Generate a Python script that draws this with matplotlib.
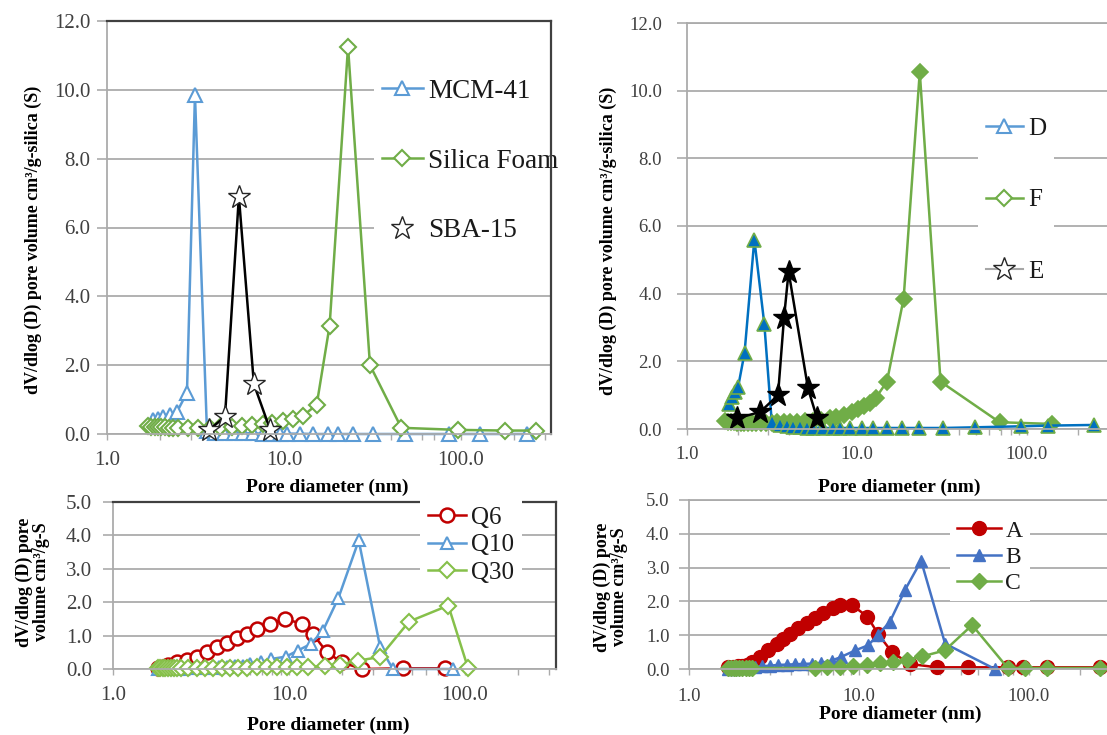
import numpy as np
import matplotlib
matplotlib.use("Agg")
import matplotlib.pyplot as plt
from matplotlib.lines import Line2D
from matplotlib.ticker import FixedLocator, FuncFormatter, LogLocator, NullFormatter

plt.rcParams['font.family'] = ['Liberation Serif', 'DejaVu Serif']

W, H = 1107, 735

# ---------------- panel 1: MCM-41 / Silica Foam / SBA-15 ----------------
mcm_d = [1.82, 1.94, 2.07, 2.27, 2.49, 2.83, 3.14, 3.67,
         4.1, 4.6, 5.2, 5.9, 6.7, 7.6, 8.6, 9.5,
         10.4, 12.3, 14.6, 17.7, 20.1, 24.5, 31.8, 48, 86, 128, 235]
mcm_v = [0.40, 0.45, 0.50, 0.55, 0.65, 1.20, 9.85, 0.10,
         0.04, 0.03, 0.02, 0.02, 0.02, 0.01, 0.01, 0.01,
         0.01, 0.01, 0.0, 0.0, 0.0, 0.0, 0.0, 0.0, 0.0, 0.0, 0.0]

foam_d = [1.70, 1.78, 1.86, 1.94, 2.03, 2.13, 2.24, 2.36, 2.52, 2.87,
          3.26, 3.81, 4.35, 5.08, 5.78, 6.6, 7.6, 8.6, 9.85, 11.2,
          12.8, 15.3, 18.1, 23.0, 30.6, 46, 96, 177, 265]
foam_v = [0.22, 0.21, 0.20, 0.20, 0.19, 0.19, 0.18, 0.18, 0.18, 0.17,
          0.17, 0.18, 0.19, 0.20, 0.22, 0.25, 0.29, 0.33, 0.39, 0.45,
          0.53, 0.85, 3.15, 11.25, 2.0, 0.18, 0.12, 0.10, 0.10]

sba_d = [3.77, 4.64, 5.56, 6.76, 8.36]
sba_v = [0.12, 0.5, 6.9, 1.45, 0.12]

# ---------------- panel 2: D / F / E ----------------
D_d = [1.76, 1.84, 1.92, 2.0, 2.18, 2.49, 2.85, 3.15,
       3.52, 3.87, 4.2, 4.62, 5.07, 5.5, 6.3, 7.2,
       7.95, 9.1, 10.7, 12.4, 15.0, 18.4, 23.3, 32.0,
       49.5, 92, 133, 249]
D_v = [0.75, 0.95, 1.1, 1.25, 2.25, 5.6, 3.1, 0.22,
       0.12, 0.08, 0.06, 0.05, 0.04, 0.04, 0.03, 0.03,
       0.03, 0.03, 0.03, 0.03, 0.03, 0.03, 0.03, 0.03,
       0.05, 0.08, 0.10, 0.12]

F_d = [1.67, 1.74, 1.82, 1.9, 1.98, 2.07, 2.17, 2.28, 2.41, 2.56, 2.73, 2.93, 3.15,
       3.4, 3.7, 4.05, 4.45, 4.95, 5.5,
       6.13, 6.9, 7.52, 8.4, 9.34, 10.2, 11.0, 12.0, 12.9,
       15.0, 18.8, 23.4, 31.0, 69, 140]
F_v = [0.25, 0.22, 0.2, 0.2, 0.19, 0.19, 0.18, 0.18, 0.18, 0.18, 0.18, 0.19, 0.19,
       0.2, 0.2, 0.21, 0.22, 0.23, 0.25,
       0.28, 0.32, 0.36, 0.42, 0.5, 0.58, 0.67, 0.78, 0.92,
       1.4, 3.85, 10.55, 1.4, 0.2, 0.15]

E_d = [1.97, 2.69, 3.43, 3.72, 3.96, 5.15, 5.82]
E_v = [0.32, 0.5, 1.0, 3.28, 4.65, 1.2, 0.32]

# ---------------- panel 3: Q6 / Q10 / Q30 ----------------
Q6_d = [1.8, 1.92, 2.05, 2.31, 2.63, 3.0, 3.42, 3.9, 4.44, 5.06,
        5.77, 6.57, 7.8, 9.46, 11.9, 13.7, 16.4, 20.0, 26.0, 44.3, 77]
Q6_v = [0.03, 0.07, 0.12, 0.2, 0.27, 0.37, 0.5, 0.65, 0.77, 0.92,
        1.06, 1.21, 1.35, 1.5, 1.35, 1.05, 0.5, 0.2, 0.0, 0.02, 0.02]

Q10_d = [1.8, 1.95, 2.1, 2.3, 2.5, 2.75, 3.0, 3.3, 3.65, 4.0,
         4.45, 4.95, 5.5, 6.0, 6.9, 7.9, 9.6, 11.2, 13.3, 15.6,
         19.1, 24.9, 32.9, 38.9, 86]
Q10_v = [0.0, 0.0, 0.0, 0.01, 0.01, 0.02, 0.02, 0.03, 0.04, 0.05,
         0.06, 0.08, 0.1, 0.14, 0.2, 0.3, 0.37, 0.55, 0.75, 1.15,
         2.13, 3.85, 0.67, 0.0, 0.0]

Q30_d = [1.8, 1.86, 1.92, 1.98, 2.05, 2.13, 2.22, 2.32, 2.45, 2.67,
         3.0, 3.33, 3.7, 4.16, 4.62, 5.12, 5.77, 6.57, 7.5, 8.5,
         9.7, 11.1, 12.8, 16.0, 19.4, 24.6, 32.9, 48.1, 80.4, 104]
Q30_v = [0.03, 0.03, 0.03, 0.03, 0.03, 0.03, 0.03, 0.03, 0.03, 0.03,
         0.03, 0.03, 0.03, 0.03, 0.04, 0.04, 0.04, 0.05, 0.05, 0.05,
         0.06, 0.06, 0.07, 0.08, 0.13, 0.25, 0.36, 1.42, 1.9, 0.03]

# ---------------- panel 4: A / B / C ----------------
A_d = [1.70, 1.82, 1.94, 2.06, 2.19, 2.35, 2.62, 2.92, 3.29, 3.57,
       3.92, 4.37, 4.94, 5.5, 6.13, 7.0, 7.7, 9.05, 11.2, 12.9,
       15.6, 19.9, 28.7, 43.7, 75, 92, 127, 262]
A_v = [0.07, 0.07, 0.08, 0.1, 0.12, 0.2, 0.35, 0.55, 0.75, 0.9,
       1.05, 1.2, 1.35, 1.5, 1.65, 1.8, 1.9, 1.9, 1.55, 1.05,
       0.5, 0.15, 0.05, 0.05, 0.05, 0.05, 0.05, 0.05]

B_d = [1.70, 1.85, 2.0, 2.2, 2.45, 2.7, 3.0, 3.35, 3.75, 4.2,
       4.7, 5.3, 6.0, 6.9, 7.8, 9.5, 11.3, 12.9, 15.2, 18.7,
       23.2, 32.1, 63]
B_v = [0.0, 0.0, 0.02, 0.04, 0.06, 0.08, 0.1, 0.12, 0.13, 0.14,
       0.15, 0.16, 0.18, 0.25, 0.35, 0.55, 0.7, 1.0, 1.4, 2.35,
       3.2, 0.75, 0.0]

C_d = [1.70, 1.76, 1.83, 1.9, 1.98, 2.06, 2.15, 2.25, 2.35,
       5.5, 6.5, 7.7, 9.2, 11.1, 13.3, 15.9, 19.2, 23.4, 32.0, 46.3,
       75, 95, 127, 262]
C_v = [0.03, 0.03, 0.03, 0.03, 0.03, 0.03, 0.03, 0.03, 0.03,
       0.03, 0.05, 0.07, 0.1, 0.13, 0.17, 0.2, 0.27, 0.37, 0.55, 1.3,
       0.03, 0.03, 0.03, 0.03]

ylab_top = "dV/dlog (D) pore volume cm³/g-silica (S)"
ylab_bot = "dV/dlog (D) pore\nvolume cm³/g-S"
xlab = "Pore diameter (nm)"

GRID = '#ABABAB'
DARK = '#404040'
TXT = '#404040'

fig = plt.figure(figsize=(W / 100, H / 100), dpi=100)
fig.patch.set_facecolor('white')


def make_axes(x_one, dec, x_right, y_top, y_zero, y_max, y_step, tsize, ypad, xpad, framed):
    # positions in pixels of the original picture
    ax = fig.add_axes([x_one / W, 1 - y_zero / H, (x_right - x_one) / W, (y_zero - y_top) / H])
    ax.set_xscale('log')
    ax.set_xlim(1, 10 ** ((x_right - x_one) / dec))
    ax.set_ylim(0, y_max)
    ax.yaxis.set_major_locator(FixedLocator(np.arange(0, y_max + 0.01, y_step)))
    ax.yaxis.set_major_formatter(FuncFormatter(lambda v, p: "%.1f" % v))
    ax.xaxis.set_major_locator(FixedLocator([1, 10, 100]))
    ax.xaxis.set_major_formatter(FuncFormatter(lambda v, p: "%.1f" % v))
    ax.xaxis.set_minor_locator(LogLocator(base=10, subs=np.arange(2, 10)))
    ax.xaxis.set_minor_formatter(NullFormatter())
    ax.grid(axis='y', color=GRID, lw=1.3)
    ax.set_axisbelow(True)
    for s in ['left', 'bottom']:
        ax.spines[s].set_color(GRID)
        ax.spines[s].set_linewidth(1.3)
    if framed:
        for s in ['top', 'right']:
            ax.spines[s].set_color(DARK)
            ax.spines[s].set_linewidth(1.6)
    else:
        ax.spines['right'].set_visible(False)
        ax.spines['top'].set_color(GRID)
        ax.spines['top'].set_linewidth(1.3)
    ax.tick_params(axis='y', which='major', length=7, width=1.2, color=GRID,
                   labelcolor=TXT, labelsize=tsize, pad=ypad)
    ax.tick_params(axis='x', which='both', length=4, width=1.0, color=GRID,
                   labelcolor=TXT, labelsize=tsize, pad=xpad)
    return ax


def labels(ax, xl_pos, yl_pos, ytext, fs_y):
    ax.set_xlabel(xlab, fontsize=14, fontweight='bold', color='black')
    ax.xaxis.label.set_va('center')
    ax.xaxis.set_label_coords(xl_pos[0] / W, 1 - xl_pos[1] / H, transform=fig.transFigure)
    ax.set_ylabel(ytext, fontsize=fs_y, fontweight='bold', color='black', linespacing=1.0)
    ax.yaxis.label.set_va('center')
    ax.yaxis.set_label_coords(yl_pos[0] / W, 1 - yl_pos[1] / H, transform=fig.transFigure)


def legend(ax, handles, names, x_left, y_mid, fs, spacing, hlen, z):
    leg = ax.legend(handles, names, loc='center left',
                    bbox_to_anchor=(x_left / W, 1 - y_mid / H), bbox_transform=fig.transFigure,
                    fontsize=fs, frameon=True, facecolor='white', edgecolor='none', framealpha=1,
                    fancybox=False, borderpad=0.3, borderaxespad=0, labelspacing=spacing,
                    handlelength=hlen, handletextpad=0.2)
    for t in leg.get_texts():
        t.set_color('#1a1a1a')
    leg.set_zorder(z)
    return leg


# ---------- panel 1 ----------
ax1 = make_axes(107, 177, 551, 21, 434, 12, 2, 15, 5, 8, True)
ax1.plot(mcm_d, mcm_v, color='#5B9BD5', lw=1.8, marker='^', ms=10, mfc='white',
         mec='#5B9BD5', mew=1.5, clip_on=False)
ax1.plot(foam_d, foam_v, color='#70AD47', lw=1.8, marker='D', ms=8, mfc='white',
         mec='#70AD47', mew=1.5, clip_on=False)
ax1.plot(sba_d, sba_v, color='black', lw=1.8, marker='*', ms=17, mfc='white',
         mec='#262626', mew=1.0, clip_on=False)
labels(ax1, (327, 487), (33, 240), ylab_top, 13)
h1 = [Line2D([], [], color='#5B9BD5', lw=1.8, marker='^', ms=10, mfc='white', mec='#5B9BD5', mew=1.5),
      Line2D([], [], color='#70AD47', lw=1.8, marker='D', ms=8, mfc='white', mec='#70AD47', mew=1.5),
      Line2D([], [], ls='none', marker='*', ms=17, mfc='white', mec='#262626', mew=1.0)]
legend(ax1, h1, ['MCM-41', 'Silica Foam', 'SBA-15'], 374, 161, 19.5, 1.65, 1.5, 2.2)

# ---------- panel 2 ----------
ax2 = make_axes(687, 170, 1107, 23, 429, 12, 2, 13.5, 11, 8, False)
ax2.plot(F_d, F_v, color='#70AD47', lw=1.8, marker='D', ms=8, mfc='#70AD47',
         mec='#70AD47', mew=1.2, clip_on=False)
ax2.plot(D_d, D_v, color='#0070C0', lw=1.8, marker='^', ms=10, mfc='#0070C0',
         mec='#70AD47', mew=1.2, clip_on=False)
ax2.plot(E_d, E_v, color='black', lw=1.8, marker='*', ms=17, mfc='black',
         mec='black', mew=1.0, clip_on=False)
labels(ax2, (899, 487), (608, 241), ylab_top, 13)
h2 = [Line2D([], [], color='#5B9BD5', lw=1.8, marker='^', ms=10, mfc='white', mec='#5B9BD5', mew=1.5),
      Line2D([], [], color='#70AD47', lw=1.8, marker='D', ms=8, mfc='white', mec='#70AD47', mew=1.5),
      Line2D([], [], color='#A6A6A6', lw=1.5, marker='*', ms=17, mfc='white', mec='#262626', mew=1.0)]
legend(ax2, h2, ['D', 'F', 'E'], 978, 200, 18, 1.95, 1.5, 2.2)

# ---------- panel 3 ----------
ax3 = make_axes(113, 176, 556, 502, 669, 5, 1, 15, 8, 8, True)
ax3.plot(Q6_d, Q6_v, color='#C00000', lw=1.8, marker='o', ms=10, mfc='white',
         mec='#C00000', mew=1.8, clip_on=False)
ax3.plot(Q10_d, Q10_v, color='#5B9BD5', lw=1.8, marker='^', ms=9, mfc='white',
         mec='#5B9BD5', mew=1.5, clip_on=False)
ax3.plot(Q30_d, Q30_v, color='#86C04A', lw=1.8, marker='D', ms=8, mfc='white',
         mec='#86C04A', mew=1.5, clip_on=False)
labels(ax3, (328, 725), (33, 582), ylab_bot, 13)
h3 = [Line2D([], [], color='#C00000', lw=1.8, marker='o', ms=10, mfc='white', mec='#C00000', mew=1.8),
      Line2D([], [], color='#5B9BD5', lw=1.8, marker='^', ms=9, mfc='white', mec='#5B9BD5', mew=1.5),
      Line2D([], [], color='#86C04A', lw=1.8, marker='D', ms=8, mfc='white', mec='#86C04A', mew=1.5)]
legend(ax3, h3, ['Q6', 'Q10', 'Q30'], 420, 545, 18, 0.2, 1.55, 5)

# ---------- panel 4 ----------
ax4 = make_axes(689, 170, 1107, 500, 669, 5, 1, 13.5, 7, 10, False)
ax4.plot(A_d, A_v, color='#C00000', lw=1.8, marker='o', ms=10, mfc='#C00000',
         mec='#C00000', mew=1.0, clip_on=False)
ax4.plot(B_d, B_v, color='#4472C4', lw=1.8, marker='^', ms=9, mfc='#4472C4',
         mec='#4472C4', mew=1.0, clip_on=False)
ax4.plot(C_d, C_v, color='#70AD47', lw=1.8, marker='D', ms=8, mfc='#70AD47',
         mec='#70AD47', mew=1.0, clip_on=False)
labels(ax4, (900, 714), (611, 587), ylab_bot, 13)
h4 = [Line2D([], [], color='#C00000', lw=1.8, marker='o', ms=10, mfc='#C00000', mec='#C00000'),
      Line2D([], [], color='#4472C4', lw=1.8, marker='^', ms=9, mfc='#4472C4', mec='#4472C4'),
      Line2D([], [], color='#70AD47', lw=1.8, marker='D', ms=8, mfc='#70AD47', mec='#70AD47')]
legend(ax4, h4, ['A', 'B', 'C'], 950, 557, 17, 0.2, 1.85, 2.2)

fig.savefig('out.png', dpi=100, facecolor='white')
